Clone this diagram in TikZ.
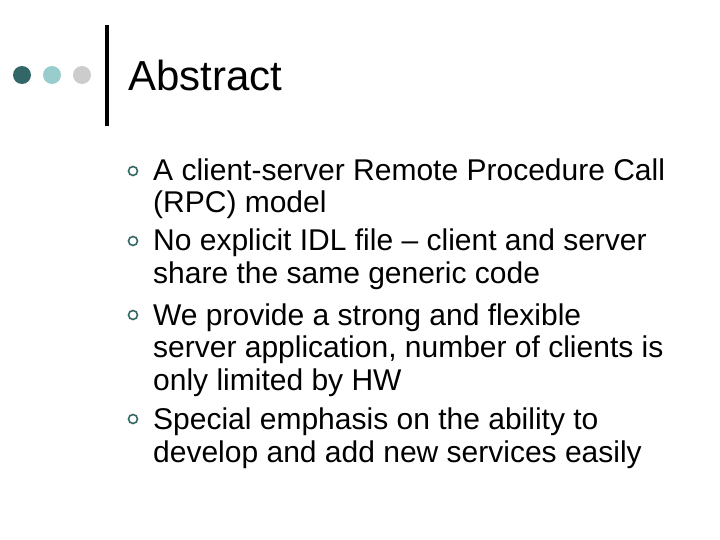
\documentclass[tikz,border=0pt]{standalone}
\usepackage{fontspec}
\setmainfont{Liberation Sans}
\definecolor{dotdark}{HTML}{336666}
\definecolor{dotmid}{HTML}{99CCCC}
\definecolor{dotlight}{HTML}{CCCCCC}
\tikzset{
  line/.style={anchor=base west, inner sep=0pt, font=\fontsize{30}{30}\selectfont},
  bul/.style={circle, draw=dotdark, line width=1.6pt, minimum size=9pt, inner sep=0pt}
}
\begin{document}
\begin{tikzpicture}[x=1pt,y=-1pt]
	\useasboundingbox (0,0) rectangle (720,540);
	% dots and bar
	\fill[dotdark]  (22,75) circle (9);
	\fill[dotmid]   (52,75) circle (9);
	\fill[dotlight] (82,75) circle (9);
	\draw[line width=3.5pt] (107,25) -- (107,126);
	\node[anchor=base west, inner sep=0pt, font=\fontsize{42}{42}\selectfont] (title) at (128,91) {Abstract};
	% bullets
	\node[bul] (b1) at (133,171) {};
	\node[line] (l1) at (153,181) {A client-server Remote Procedure Call};
	\node[line] (l2) at (153,213) {(RPC) model};
	\node[bul] (b2) at (133,241) {};
	\node[line] (l3) at (153,251) {No explicit IDL file -- client and server};
	\node[line] (l4) at (153,283) {share the same generic code};
	\node[bul] (b3) at (133,315) {};
	\node[line] (l5) at (153,325) {We provide a strong and flexible};
	\node[line] (l6) at (153,357) {server application, number of clients is};
	\node[line] (l7) at (153,390) {only limited by HW};
	\node[bul] (b4) at (133,419) {};
	\node[line] (l8) at (153,429) {Special emphasis on the ability to};
	\node[line] (l9) at (153,462) {develop and add new services easily};
\end{tikzpicture}
\end{document}
